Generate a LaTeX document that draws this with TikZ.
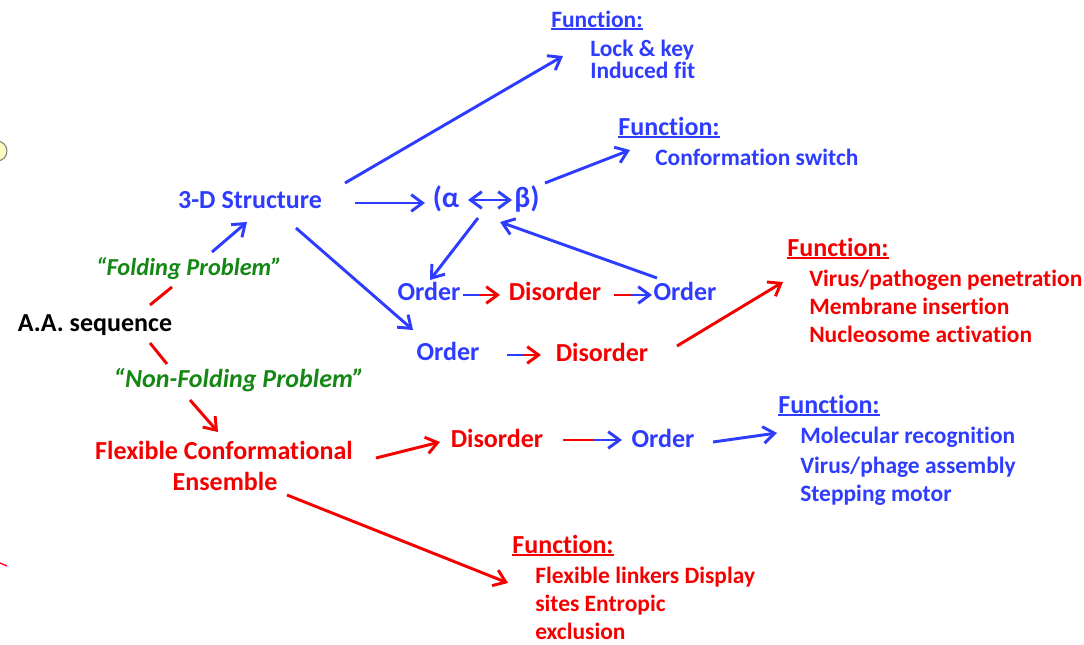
\documentclass[tikz,border=0pt]{standalone}
\usepackage{fontspec}
\setmainfont{Carlito}[Ligatures={NoCommon}]
\usetikzlibrary{arrows.meta,calc}

\definecolor{fblue}{RGB}{45,60,255}
\definecolor{fred}{RGB}{245,0,0}
\definecolor{fgreen}{RGB}{20,135,20}

% underline drawn as a thick rule below the word
\newcommand\fnul[1]{{\setbox0\hbox{#1}\rlap{\rule[-2.2pt]{\wd0}{1.6pt}}\box0}}

\tikzset{
  x=0.75pt, y=-0.75pt,
  lbl/.style={inner sep=0pt, text height=1.15em, text depth=0.05em,
              font=\bfseries\fontsize{19.5}{21}\selectfont},
  small/.style={font=\bfseries\fontsize{17.6}{19}\selectfont},
  greek/.style={font=\bfseries\fontsize{22}{24}\selectfont},
  blu/.style={lbl, text=fblue},
  rd/.style={lbl, text=fred},
  grn/.style={lbl, text=fgreen, font=\bfseries\itshape\fontsize{19.5}{21}\selectfont},
  blk/.style={lbl, text=black},
  link/.style={line width=2.2pt, line cap=butt},
  tip/.style={-{Straight Barb[length=8.5pt,width=12.5pt]}},
  barrow/.style={link, fblue, tip},
  rarrow/.style={link, fred, tip},
  bline/.style={link, fblue},
  rline/.style={link, fred},
}

\begin{document}
\begin{tikzpicture}
\useasboundingbox (0,0) rectangle (1084,645);

% small fragments at the left edge
\begin{scope}
  \clip (0,0) rectangle (1084,645);
  \draw[gray, fill=yellow!25, line width=0.8pt] (-3,151) circle (10);
  \draw[red!80!magenta, line width=1pt] (0,563) -- (7,566);
\end{scope}

% ---- labels ----
\node[blu, small] (f1) at (597,20) {\fnul{Function:}};
\node[blu, small, anchor=west] (lk1) at (590,49) {Lock \& key};
\node[blu, small, anchor=west] (lk2) at (590,71) {Induced fit};

\node[blu] (f2) at (669,128) {\fnul{Function:}};
\node[blu, small, anchor=west] (cs) at (655,158) {Conformation switch};

\node[blu] (s3d) at (250,201) {3-D Structure};
\node[blu, greek] (alpha) at (446,200) {(α};
\node[blu, greek] (beta) at (527,200) {β)};

\node[rd] (f3) at (838,249) {\fnul{Function:}};
\node[rd, small, anchor=west] (vp) at (809,279) {Virus/pathogen penetration};
\node[rd, small, anchor=west] (mi) at (809,307) {Membrane insertion};
\node[rd, small, anchor=west] (na) at (809,335) {Nucleosome activation};

\node[blu] (o1) at (429,293) {Order};
\node[rd]  (d1) at (555,293) {Disorder};
\node[blu] (o2) at (685,293) {Order};

\node[blk] (aa) at (95,324) {A.A. sequence};
\node[grn, font=\bfseries\itshape\fontsize{18.3}{20}\selectfont] (fp) at (189,268) {“Folding Problem”};
\node[grn] (nfp) at (239,380) {“Non-Folding Problem”};

\node[blu] (o3) at (448,353) {Order};
\node[rd]  (d2) at (602,354) {Disorder};

\node[rd] (fce) at (224,452) {Flexible Conformational};
\node[rd] (ens) at (225,483) {Ensemble};

\node[rd]  (d3) at (497,440) {Disorder};
\node[blu] (o4) at (663,440) {Order};

\node[blu] (f4) at (829,406) {\fnul{Function:}};
\node[blu, small, anchor=west] (mr) at (800,436) {Molecular recognition};
\node[blu, small, anchor=west] (va) at (800,466) {Virus/phage assembly};
\node[blu, small, anchor=west] (sm) at (800,494) {Stepping motor};

\node[rd] (f5) at (563,546) {\fnul{Function:}};
\node[rd, small, anchor=west] (fl1) at (535,576) {Flexible linkers Display};
\node[rd, small, anchor=west] (fl2) at (535,604) {sites Entropic};
\node[rd, small, anchor=west] (fl3) at (535,632) {exclusion};

% ---- connectors ----
\draw[barrow] ($(s3d)+(95,-18)$) -- ($(f1)+(-34,36)$);
\draw[barrow] ($(s3d)+(105,2)$) -- ($(alpha)+(-21,3)$);
\draw[link, fblue, {Straight Barb[length=8.5pt,width=12.5pt]}-{Straight Barb[length=8.5pt,width=12.5pt]}]
  ($(alpha)+(22,0)$) -- ($(beta)+(-15,0)$);
\draw[barrow] ($(beta)+(18,-17)$) -- ($(f2)+(-39,22)$);
\draw[barrow] ($(alpha)+(32,18)$) -- ($(o1)+(1,-13)$);
\draw[barrow] ($(o2)+(-28,-15)$) -- ($(beta)+(-27,22)$);
\draw[barrow] ($(s3d)+(46,27)$) -- ($(o3)+(-35,-23)$);

% two-coloured transitions
\coordinate (m1) at ($(o1)+(51,2)$);
\draw[bline] ($(o1)+(34,2)$) -- (m1);
\draw[rarrow] (m1) -- ($(d1)+(-55,2)$);

\coordinate (m2) at ($(d1)+(77,2)$);
\draw[rline] ($(d1)+(59,2)$) -- (m2);
\draw[barrow] (m2) -- ($(o2)+(-33,2)$);

\coordinate (m3) at ($(o3)+(75,2)$);
\draw[bline] ($(o3)+(59,2)$) -- (m3);
\draw[rarrow] (m3) -- ($(d2)+(-61,1)$);

\draw[rarrow] ($(d2)+(75,-8)$) -- ($(f3)+(-55,33)$);

% sequence to the two problems
\draw[rline] ($(aa)+(55,-19)$) -- ($(fp)+(-17,19)$);
\draw[barrow] ($(fp)+(23,-16)$) -- ($(s3d)+(-3,21)$);
\draw[rline] ($(aa)+(55,19)$) -- ($(nfp)+(-72,-16)$);
\draw[rarrow] ($(nfp)+(-49,20)$) -- ($(fce)+(-6,-20)$);

\draw[rarrow] ($(fce)+(152,6)$) -- ($(d3)+(-57,2)$);
\coordinate (m4) at ($(d3)+(97,0)$);
\draw[rline] ($(d3)+(66,0)$) -- (m4);
\draw[barrow] (m4) -- ($(o4)+(-41,0)$);
\draw[barrow] ($(o4)+(50,2)$) -- ($(f4)+(-52,27)$);
\draw[rarrow] ($(ens)+(62,12)$) -- ($(f5)+(-55,37)$);
\end{tikzpicture}
\end{document}
